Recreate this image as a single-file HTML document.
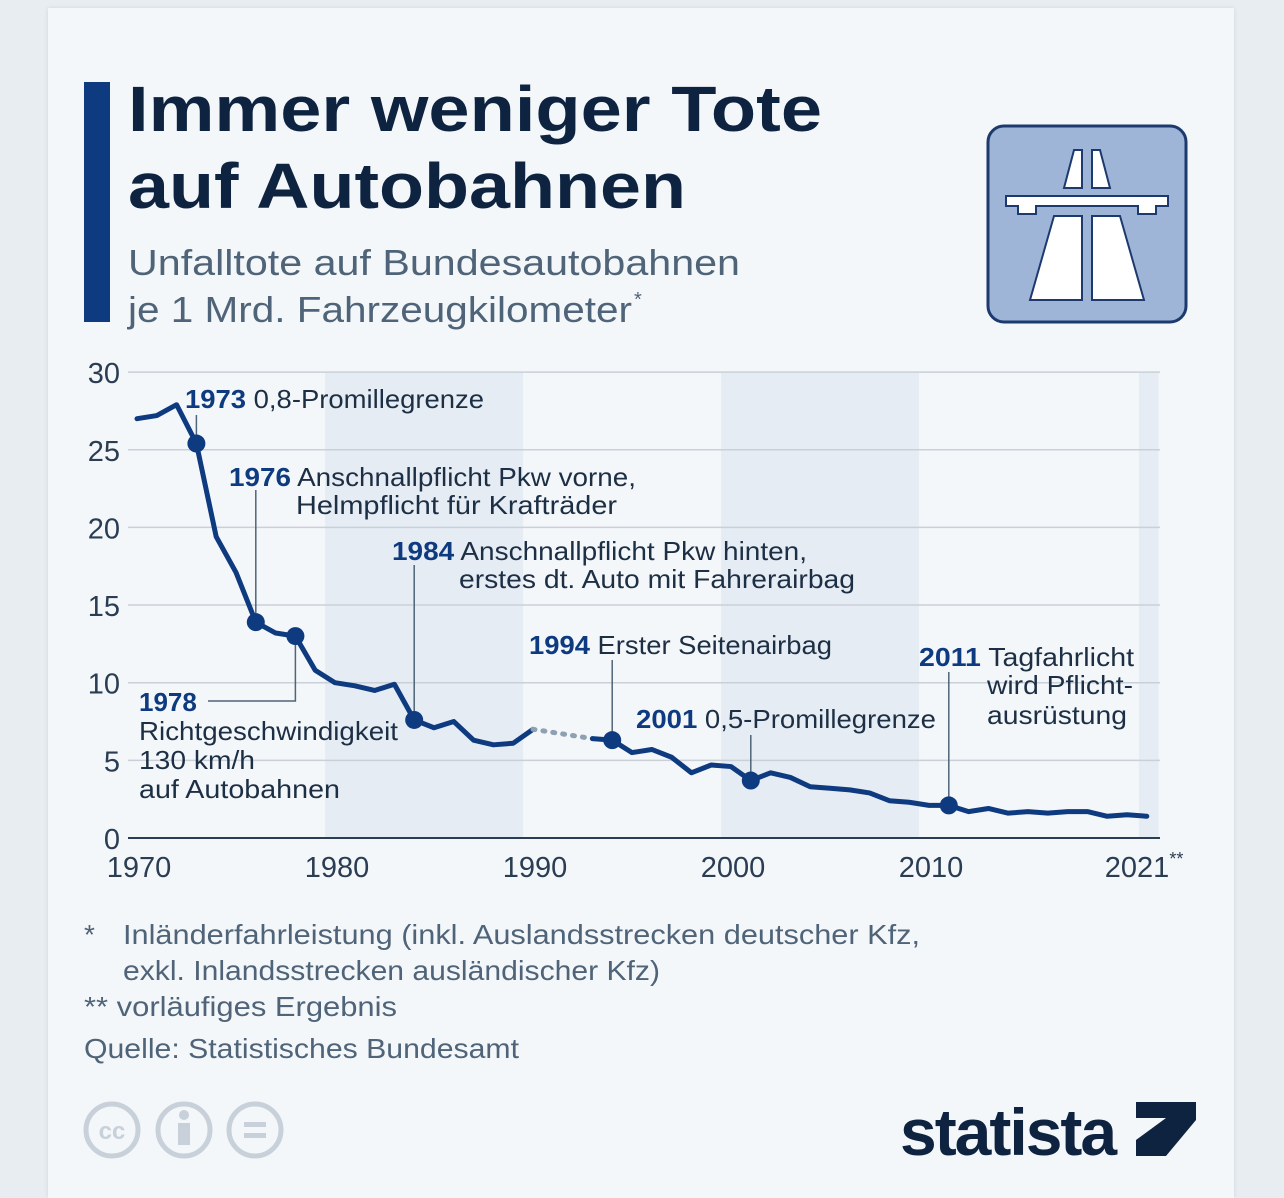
<!DOCTYPE html>
<html><head><meta charset="utf-8"><style>
body{margin:0;width:1284px;height:1186px;background:#e8edf2;font-family:"Liberation Sans","DejaVu Sans",sans-serif;overflow:hidden}
#card{position:absolute;left:48px;top:8px;width:1186px;height:1190px;background:#f4f7fa;box-shadow:0 0 4px #cfd6de}
</style></head><body>
<div id="card"></div>
<svg width="1284" height="1186" style="position:absolute;left:0;top:0" id="chart">
<rect x="84" y="82" width="26" height="240" fill="#0e3a80"/>
<text x="128" y="131" font-size="64" font-weight="bold" fill="#0d2340" textLength="694" lengthAdjust="spacingAndGlyphs">Immer weniger Tote</text>
<text x="128" y="208" font-size="64" font-weight="bold" fill="#0d2340" textLength="558" lengthAdjust="spacingAndGlyphs">auf Autobahnen</text>
<text x="128" y="275" font-size="36" fill="#4f6478" textLength="612" lengthAdjust="spacingAndGlyphs">Unfalltote auf Bundesautobahnen</text>
<text x="128" y="322" font-size="36" fill="#4f6478" textLength="504" lengthAdjust="spacingAndGlyphs">je 1 Mrd. Fahrzeugkilometer</text>
<text x="634" y="306" font-size="20" fill="#4f6478">*</text>
<g>
<rect x="988" y="126" width="198" height="196" rx="16" fill="#9fb5d8" stroke="#1c3a6e" stroke-width="3"/>
<path d="M1006 196H1168V206H1156V214H1138V206H1036V214H1018V206H1006Z" fill="#fff" stroke="#1c3a6e" stroke-width="2"/>
<path d="M1064 188L1074 150H1082V188Z M1110 188L1100 150H1092V188Z" fill="#fff" stroke="#1c3a6e" stroke-width="2"/>
<path d="M1030 300L1054 216H1082V300Z M1144 300L1120 216H1092V300Z" fill="#fff" stroke="#1c3a6e" stroke-width="2"/>
</g>
<g id="plot"></g>
<g font-size="28" fill="#4f6478">
<text x="84" y="944">*</text>
<text x="123" y="944" textLength="797" lengthAdjust="spacingAndGlyphs">Inländerfahrleistung (inkl. Auslandsstrecken deutscher Kfz,</text>
<text x="123" y="980" textLength="537" lengthAdjust="spacingAndGlyphs">exkl. Inlandsstrecken ausländischer Kfz)</text>
<text x="84" y="1016" textLength="313" lengthAdjust="spacingAndGlyphs">** vorläufiges Ergebnis</text>
<text x="84" y="1058" textLength="435" lengthAdjust="spacingAndGlyphs">Quelle: Statistisches Bundesamt</text>
</g>
<g fill="none" stroke="#c8d0d9" stroke-width="5">
<circle cx="112" cy="1130" r="26"/><circle cx="184" cy="1130" r="26"/><circle cx="255" cy="1130" r="26"/>
<text x="112" y="1139" font-size="24" font-weight="bold" fill="#c8d0d9" stroke="none" text-anchor="middle">cc</text>
<circle cx="184" cy="1115" r="5" fill="#c8d0d9" stroke="none"/><rect x="178" y="1123" width="12" height="22" fill="#c8d0d9" stroke="none"/>
<rect x="244" y="1122" width="22" height="5" fill="#c8d0d9" stroke="none"/><rect x="244" y="1133" width="22" height="5" fill="#c8d0d9" stroke="none"/>
</g>
<text x="900" y="1155" font-size="66" font-weight="bold" fill="#0d2340" letter-spacing="-2">statista</text>
<path d="M1136 1102H1196V1120L1166 1156H1136V1140L1166 1118H1136Z" fill="#0d2340"/>
</svg>
<script>
const years=[1970,1971,1972,1973,1974,1975,1976,1977,1978,1979,1980,1981,1982,1983,1984,1985,1986,1987,1988,1989,1990,1993,1994,1995,1996,1997,1998,1999,2000,2001,2002,2003,2004,2005,2006,2007,2008,2009,2010,2011,2012,2013,2014,2015,2016,2017,2018,2019,2020,2021];
const values=[27.0,27.2,27.9,25.4,19.4,17.1,13.9,13.2,13.0,10.8,10.0,9.8,9.5,9.9,7.6,7.1,7.5,6.3,6.0,6.1,7.0,6.4,6.3,5.5,5.7,5.2,4.2,4.7,4.6,3.7,4.2,3.9,3.3,3.2,3.1,2.9,2.4,2.3,2.1,2.1,1.7,1.9,1.6,1.7,1.6,1.7,1.7,1.4,1.5,1.4];
const yTicks=[0,5,10,15,20,25,30];
const xTicks=[1970,1980,1990,2000,2010];
const markerYears=[1973,1976,1978,1984,1994,2001,2011];
const NS="http://www.w3.org/2000/svg";
const X=y=>137+(y-1970)*19.8, Y=v=>838-v*15.53;
const g=document.getElementById('plot');
function el(t,a,p){const e=document.createElementNS(NS,t);for(const k in a)e.setAttribute(k,a[k]);(p||g).appendChild(e);return e;}
[[1979.5,1989.5],[1999.5,2009.5],[2020.6,2021.6]].forEach(b=>{
const r=el('rect',{x:X(b[0]),y:Y(30),width:X(b[1])-X(b[0]),height:Y(0)-Y(30),fill:'#e6ecf4'});

});
yTicks.forEach(t=>{
const l=el('line',{x1:128,x2:1160,y1:Y(t),y2:Y(t),stroke:t?'#c9d0d8':'#2a3d52','stroke-width':t?1.5:2});


const tx=el('text',{x:120,y:Y(t)+11,'font-size':29,fill:'#2a3d52','text-anchor':'end'});tx.textContent=t;

});
xTicks.forEach(t=>{const tx=el('text',{x:X(t)+2,y:877,'font-size':29,fill:'#2a3d52','text-anchor':'middle'});tx.textContent=t;

});
const last=el('text',{x:X(2021)-42,y:877,'font-size':29,fill:'#2a3d52'});last.innerHTML='2021<tspan font-size="18" dy="-12">**</tspan>';


// annotations: year, bold, rest, line2, x, y, leaderTop, width1, x2, width2
const ann=[[1973,'1973',' 0,8-Promillegrenze',null,185,408,415,299],[1976,'1976',' Anschnallpflicht Pkw vorne,','Helmpflicht für Krafträder',229,486,490,407,296,321],[1984,'1984',' Anschnallpflicht Pkw hinten,','erstes dt. Auto mit Fahrerairbag',392,560,565,415,459,396],[1994,'1994',' Erster Seitenairbag',null,529,654,660,303],[2001,'2001',' 0,5-Promillegrenze',null,636,728,735,300],[2011,'2011',' Tagfahrlicht','wird Pflicht-',919,666,672,215,987,146]];
ann.forEach(a=>{const i=years.indexOf(a[0]);
const l=el('line',{x1:X(a[0]),x2:X(a[0]),y1:a[6],y2:Y(values[i]),stroke:'#4f6478','stroke-width':1.5});


const t=el('text',{x:a[4],y:a[5],'font-size':26,fill:'#1d2f44',textLength:a[7],lengthAdjust:'spacingAndGlyphs'});
t.innerHTML='<tspan font-weight="bold" fill="#0e3a80">'+a[1]+'</tspan>'+a[2];


if(a[3]){const t2=el('text',{x:a[8],y:a[5]+28,'font-size':26,fill:'#1d2f44',textLength:a[9],lengthAdjust:'spacingAndGlyphs'});t2.textContent=a[3];

}});
const t3=el('text',{x:987,y:724,'font-size':26,fill:'#1d2f44',textLength:140,lengthAdjust:'spacingAndGlyphs'});t3.textContent='ausrüstung';


// 1978 annotation
const i78=years.indexOf(1978);
const p78=el('path',{d:`M208 701H${X(1978)}V${Y(values[i78])}`,fill:'none',stroke:'#4f6478','stroke-width':1.5});


const a78=el('text',{x:139,y:711,'font-size':26,fill:'#1d2f44'});
a78.innerHTML='<tspan font-weight="bold" fill="#0e3a80">1978</tspan><tspan x="139" dy="29" textLength="259" lengthAdjust="spacingAndGlyphs">Richtgeschwindigkeit</tspan><tspan x="139" dy="29" textLength="116" lengthAdjust="spacingAndGlyphs">130 km/h</tspan><tspan x="139" dy="29" textLength="201" lengthAdjust="spacingAndGlyphs">auf Autobahnen</tspan>';


// line
const gap=years.indexOf(1993);
const pts=(s,e)=>years.slice(s,e).map((y,k)=>X(y)+','+Y(values[s+k])).join(' ');
const l1=el('polyline',{points:pts(0,gap),fill:'none',stroke:'#0e3a80','stroke-width':5,'stroke-linejoin':'round','stroke-linecap':'round'});


const ld=el('polyline',{points:pts(gap-1,gap+1),fill:'none',stroke:'#8fa0b2','stroke-width':5,'stroke-dasharray':'2 8','stroke-linecap':'round'});


const l2=el('polyline',{points:pts(gap,years.length),fill:'none',stroke:'#0e3a80','stroke-width':5,'stroke-linejoin':'round','stroke-linecap':'round'});


markerYears.forEach(y=>{const i=years.indexOf(y);
const c=el('circle',{cx:X(y),cy:Y(values[i]),r:9,fill:'#0e3a80'});

});
</script>
</body></html>
